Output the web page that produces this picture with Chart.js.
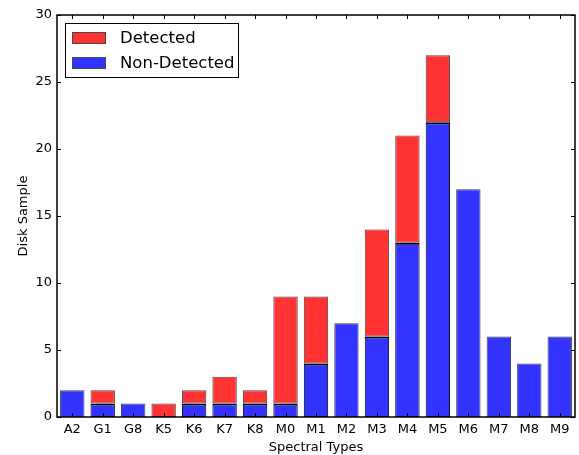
<!DOCTYPE html>
<html>
<head>
<meta charset="utf-8">
<script src="https://cdn.jsdelivr.net/npm/chart.js@4/dist/chart.umd.min.js"></script>
<style>
  html, body { margin: 0; padding: 0; background: #fff; }
  #wrap { width: 579px; height: 455px; }
</style>
</head>
<body>
<div id="wrap"><canvas id="grafico"></canvas></div>
<script>
// data
const tipos = ["A2", "G1", "G8", "K5", "K6", "K7", "K8", "M0", "M1", "M2", "M3", "M4", "M5", "M6", "M7", "M8", "M9"];
const noDetectados = [2, 1, 1, 0, 1, 1, 1, 1, 4, 7, 6, 13, 22, 17, 6, 4, 6];
const detectados = [0, 1, 0, 1, 1, 2, 1, 8, 5, 0, 8, 8, 5, 0, 0, 0, 0];
const yTicks = [0, 5, 10, 15, 20, 25, 30];

const FONT = "'DejaVu Sans', sans-serif";
const ROJO = "rgb(255,51,51)";
const AZUL = "rgb(51,51,255)";
const BORDE = "rgb(70,70,70)";

// marco, ticks hacia adentro y leyenda estilo matplotlib
const marco = {
    id: "marco",
    afterDatasetsDraw(chart) {
        const c = chart.ctx;
        const a = chart.chartArea;
        const x = chart.scales.x, y = chart.scales.y;
        c.save();
        c.strokeStyle = "#000";
        c.lineWidth = 1;
        // ticks
        c.beginPath();
        x.ticks.forEach((t, i) => {
            const px = Math.round(x.getPixelForTick(i)) + 0.5;
            c.moveTo(px, a.bottom); c.lineTo(px, a.bottom - 4);
            c.moveTo(px, a.top); c.lineTo(px, a.top + 4);
        });
        y.ticks.forEach((t, i) => {
            const py = Math.round(y.getPixelForTick(i)) + 0.5;
            c.moveTo(a.left, py); c.lineTo(a.left + 4, py);
            c.moveTo(a.right, py); c.lineTo(a.right - 4, py);
        });
        c.stroke();
        // borde
        c.lineWidth = 1.5;
        c.strokeRect(a.left, a.top, a.right - a.left, a.bottom - a.top);

        // leyenda
        const lx = a.left + 8, ly = a.top + 8, lw = 173, lh = 54;
        c.fillStyle = "#fff";
        c.fillRect(lx, ly, lw, lh);
        c.lineWidth = 1;
        c.strokeStyle = "#000";
        c.strokeRect(lx + 0.5, ly + 0.5, lw, lh);
        const items = [["Detected", ROJO], ["Non-Detected", AZUL]];
        c.font = "16.5px " + FONT;
        c.textBaseline = "middle";
        items.forEach((it, i) => {
            const cy = ly + 15 + i * 25;
            c.fillStyle = it[1];
            c.fillRect(lx + 7, cy - 6, 34, 12);
            c.strokeStyle = BORDE;
            c.strokeRect(lx + 7.5, cy - 5.5, 33, 11);
            c.fillStyle = "#000";
            c.fillText(it[0], lx + 55, cy + 1);
        });
        c.restore();
    }
};

const ctx = document.getElementById("grafico").getContext("2d");

new Chart(ctx, {
    type: "bar",
    data: {
        labels: tipos,
        datasets: [
            {
                label: "Non-Detected",
                data: noDetectados.map(v => v === 0 ? null : v),
                backgroundColor: AZUL,
                borderColor: c => detectados[c.dataIndex] > 0 ? "#000" : BORDE,
                borderWidth: c => detectados[c.dataIndex] > 0
                    ? { top: 2, right: 1, bottom: 1, left: 1 }
                    : 1,
                borderSkipped: false
            },
            {
                label: "Detected",
                data: detectados.map(v => v === 0 ? null : v),
                backgroundColor: ROJO,
                borderColor: BORDE,
                borderWidth: 1,
                borderSkipped: false
            }
        ]
    },
    options: {
        responsive: true,
        maintainAspectRatio: false,
        animation: false,
        layout: { padding: { top: 15, right: 4, left: 0, bottom: 0 } },
        datasets: { bar: { barPercentage: 0.8, categoryPercentage: 1.0 } },
        plugins: {
            legend: { display: false },
            tooltip: { enabled: false }
        },
        scales: {
            x: {
                stacked: true,
                grid: { display: false, drawTicks: false },
                border: { display: false },
                ticks: { color: "#000", font: { family: FONT, size: 13 }, padding: 5, maxRotation: 0, autoSkip: false },
                title: { display: true, text: "Spectral Types", color: "#000", font: { family: FONT, size: 13 }, padding: { top: 0, bottom: 0 } },
                afterFit(s) { s.height = 38; }
            },
            y: {
                stacked: true,
                min: 0,
                max: 30,
                afterBuildTicks(s) { s.ticks = yTicks.map(v => ({ value: v })); },
                grid: { display: false, drawTicks: false },
                border: { display: false },
                ticks: { color: "#000", font: { family: FONT, size: 13 }, padding: 5 },
                title: { display: true, text: "Disk Sample", color: "#000", font: { family: FONT, size: 13 }, padding: { top: 16, bottom: 0 } },
                afterFit(s) { s.width = 57; }
            }
        }
    },
    plugins: [marco]
});
</script>
</body>
</html>
